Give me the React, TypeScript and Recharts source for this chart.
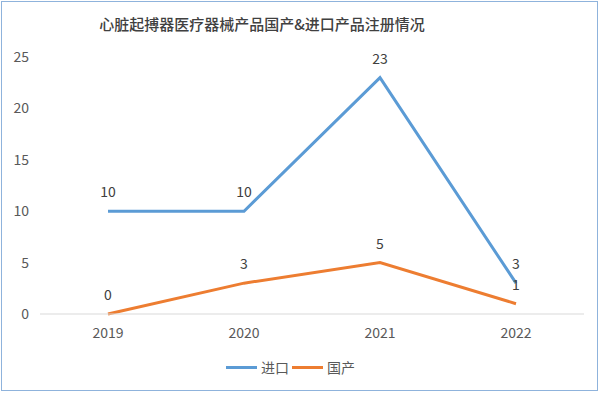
import React from 'react';
import { LineChart, Line, XAxis, YAxis, Legend, LabelList } from 'recharts';

const years = ['2019', '2020', '2021', '2022'];
const importCounts = [10, 10, 23, 3];
const domesticCounts = [0, 3, 5, 1];
const yTicks = [0, 5, 10, 15, 20, 25];
const seriesNames = ['进口', '国产'];
const seriesColors = ['#5b9bd5', '#ed7d31'];

const data = years.map((y, i) => ({ year: y, 进口: importCounts[i], 国产: domesticCounts[i] }));

const font = '"Noto Sans CJK SC", "Noto Sans", sans-serif';

const LegendBox = () => (
    <div style={{ display: 'flex', justifyContent: 'center', alignItems: 'center', fontSize: 14, color: '#595959', fontFamily: font }}>
        {seriesNames.map((name, i) => (
            <span key={name} style={{ display: 'flex', alignItems: 'center', marginRight: 3 }}>
                <span style={{ display: 'inline-block', width: 31, height: 3, background: seriesColors[i], marginRight: 4 }} />
                {name}
            </span>
        ))}
    </div>
);

const App: React.FC = () => {
    return (
        <div style={{ position: 'relative', width: 600, height: 393, background: '#fff', fontFamily: font }}>
            <style>{'body{margin:0}'}</style>
            <div style={{ position: 'absolute', left: 1, top: 1, width: 595, height: 388, border: '1.5px solid #8fb3dc' }} />
            <div style={{ position: 'absolute', left: 0, width: 524, top: 13, textAlign: 'center', fontSize: 15, fontWeight: 500, color: '#404040' }}>
                心脏起搏器医疗器械产品国产&amp;进口产品注册情况
            </div>
            <div style={{ position: 'absolute', left: 0, top: 0 }}>
                <LineChart width={600} height={393} data={data} margin={{ top: 57, right: 16, left: 0, bottom: 29 }}>
                    <XAxis dataKey="year" padding={{ left: 68, right: 68 }} tickLine={false} axisLine={{ stroke: '#d9d9d9' }}
                        tick={{ fill: '#595959', fontSize: 14, fontFamily: font }} tickMargin={8} />
                    <YAxis domain={[0, 25]} ticks={yTicks} width={40} axisLine={false} tickLine={false}
                        tick={{ fill: '#595959', fontSize: 14, fontFamily: font }} tickMargin={5} />
                    <Legend verticalAlign="bottom" content={<LegendBox />} wrapperStyle={{ bottom: 16 }} />
                    <Line dataKey="进口" stroke={seriesColors[0]} strokeWidth={3} dot={false} isAnimationActive={false}>
                        <LabelList dataKey="进口" position="top" offset={14} fill="#404040" fontSize={14} />
                    </Line>
                    <Line dataKey="国产" stroke={seriesColors[1]} strokeWidth={3} dot={false} isAnimationActive={false}>
                        <LabelList dataKey="国产" position="top" offset={14} fill="#404040" fontSize={14} />
                    </Line>
                </LineChart>
            </div>
        </div>
    );
};

export default App;
